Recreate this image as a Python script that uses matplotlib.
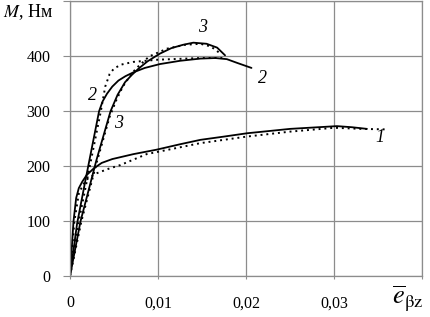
import numpy as np
import matplotlib.pyplot as plt
from matplotlib.ticker import FuncFormatter

plt.rcParams['font.family'] = ['Liberation Serif', 'DejaVu Serif']
plt.rcParams['mathtext.fontset'] = 'stix'

# curve 1
e1 = [0, 0.0004, 0.0007, 0.001, 0.0014, 0.0019, 0.0027, 0.0036, 0.0048,
      0.0072, 0.0098, 0.0125, 0.0148, 0.0175, 0.0201, 0.025, 0.0303, 0.032, 0.0337]
m1 = [0, 100, 142, 160, 172, 184, 196, 206, 213, 222, 230, 240, 248, 254,
      260, 268, 273, 271, 268]
e1d = [0, 0.0005, 0.001, 0.0015, 0.002, 0.003, 0.0045, 0.0057, 0.0087,
       0.0148, 0.0201, 0.025, 0.03, 0.033, 0.036]
m1d = [0, 100, 150, 167, 177, 187, 196, 202, 222, 242, 254, 263, 270, 268, 267]

# curve 2
e2 = [0, 0.0008, 0.0017, 0.0025, 0.0033, 0.0037, 0.0042, 0.0048, 0.0055,
      0.0063, 0.0072, 0.0085, 0.0102, 0.0125, 0.0148, 0.0165, 0.0178, 0.019, 0.0206]
m2 = [0, 95, 170, 235, 300, 318, 332, 345, 356, 364, 371, 379, 386, 392,
      396, 397, 395, 388, 379]
e2d = [0, 0.001, 0.0025, 0.0035, 0.004, 0.0045, 0.005, 0.0058, 0.0072,
       0.01, 0.0148, 0.0174]
m2d = [0, 100, 220, 300, 345, 368, 378, 385, 390, 394, 397, 397]

# curve 3
e3 = [0, 0.0012, 0.003, 0.0046, 0.0054, 0.00625, 0.007, 0.0078, 0.0088,
      0.0102, 0.0115, 0.0128, 0.014, 0.0155, 0.0167, 0.0176]
m3 = [0, 100, 211, 300, 330, 353, 366, 378, 391, 405, 415, 421, 425, 423, 416, 402]
e3d = [0, 0.0013, 0.003, 0.0045, 0.0053, 0.006, 0.0068, 0.0075, 0.009, 0.011,
       0.013, 0.0148, 0.016, 0.017]
m3d = [0, 100, 205, 290, 322, 345, 364, 378, 400, 414, 421, 423, 418, 406]

xticks = [0, 0.01, 0.02, 0.03, 0.04]
yticks = [0, 100, 200, 300, 400, 500]

fig = plt.figure(figsize=(4.31, 3.17), dpi=100)
ax = fig.add_axes([0.1624, 0.1293, 0.8176, 0.866])

for e, m in [(e1, m1), (e2, m2), (e3, m3)]:
    ax.plot(e, m, color='black', lw=1.3, solid_capstyle='round', solid_joinstyle='round')
for e, m in [(e1d, m1d), (e2d, m2d), (e3d, m3d)]:
    ax.plot(e, m, color='black', lw=1.4, linestyle=(0, (1, 2)))

ax.set_xlim(0, 0.04)
ax.set_ylim(0, 500)
ax.set_xticks(xticks)
ax.set_yticks(yticks)
ax.xaxis.set_major_formatter(FuncFormatter(
    lambda v, p: '' if v > 0.035 else ('0' if v == 0 else f'{v:.2f}'.replace('.', ','))))
ax.yaxis.set_major_formatter(FuncFormatter(
    lambda v, p: '' if v > 450 else f'{v:.0f}'))
ax.grid(True, color='#8c8c8c', lw=0.9)
for s in ax.spines.values():
    s.set_color('#8c8c8c')
    s.set_linewidth(0.9)
ax.tick_params(axis='y', length=5, color='#8c8c8c', pad=9, labelsize=11.5)
ax.tick_params(axis='x', length=2, color='#8c8c8c', pad=12, labelsize=11.5)

fig.text(0.007, 0.962, r'$\mathit{M}$, Нм', fontsize=13, va='center', ha='left')
fig.text(0.91, 0.06, r'$\overline{e}_{\mathrm{\beta z}}$', fontsize=19, ha='left', va='center')

lab = dict(fontsize=13, style='italic', ha='center', va='center')
ax.text(0.0352, 253, '1', **lab)
ax.text(0.0218, 360, '2', **lab)
ax.text(0.0025, 329, '2', **lab)
ax.text(0.0055, 278, '3', **lab)
ax.text(0.0150, 452, '3', **lab)

fig.savefig('out.png', dpi=100)
